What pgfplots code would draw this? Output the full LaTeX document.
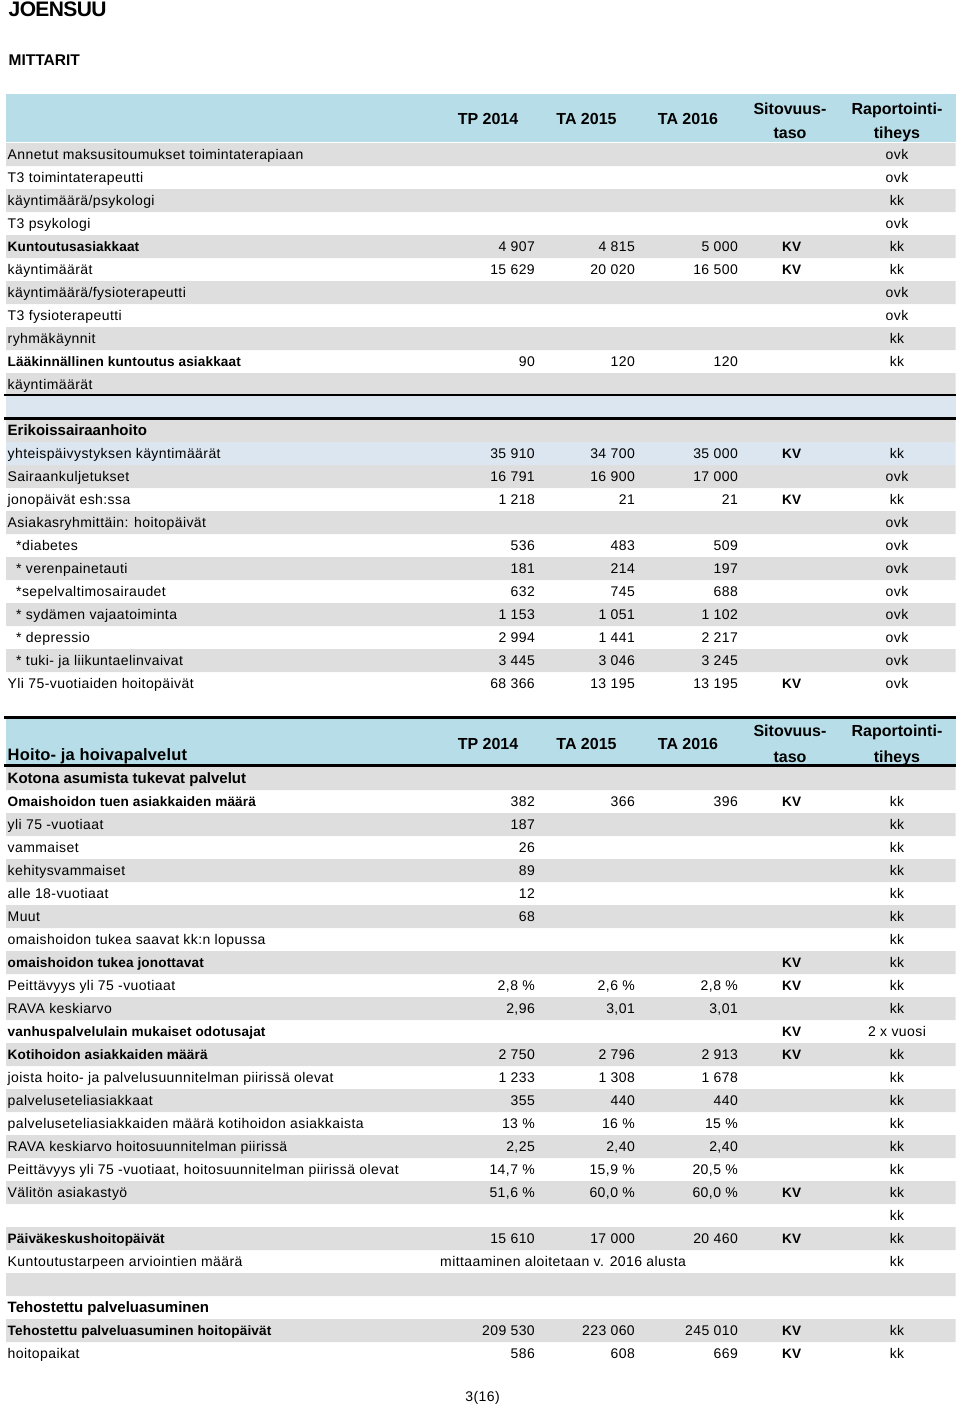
\documentclass[border=0pt]{standalone}
\usepackage{pgfplots}
\pgfplotsset{compat=1.18}
\usepackage{pgfplotstable}
\usepackage{fontspec}
\setmainfont{Liberation Sans}[LetterSpace=3]
\newfontfamily\fb{Liberation Sans}[LetterSpace=1.0]
\newfontfamily\fz{Liberation Sans}
\newfontfamily\ft{Liberation Sans}[LetterSpace=-3]
\definecolor{gry}{HTML}{DEDEDE}
\definecolor{hdr}{HTML}{B7DEE8}
\definecolor{lbl}{HTML}{DCE6F1}
\NewDocumentCommand\Bf{m}{{\fb\bfseries\fontsize{13.6}{16}\selectfont #1}}
\NewDocumentCommand\Sec{m}{{\fz\bfseries\fontsize{15}{18}\selectfont #1}}
\NewDocumentCommand\Ind{}{\hspace*{8.5pt}}
\NewDocumentCommand\rowfont{}{\fontsize{14}{16}\selectfont}
\NewDocumentCommand\hdrfont{}{\fz\bfseries\fontsize{16}{18}\selectfont}

\pgfplotsset{
  txt/.style={draw=none, mark=none, nodes near coords, point meta=explicit symbolic,
    every node near coord/.append style={inner sep=0pt, text=black, font=\rowfont, #1}},
  stripe/.style={xbar, bar width=23, bar shift=0pt, draw=none, fill=#1},
}

\pgfplotstableread[col sep=semicolon]{
y;s;lab;tp;ta;tb;kv;fr;z
154.5;1;Annetut maksusitoumukset toimintaterapiaan;;;;;ovk;0
177.5;0;T3 toimintaterapeutti;;;;;ovk;0
200.5;1;käyntimäärä/psykologi;;;;;kk;0
223.5;0;T3 psykologi;;;;;ovk;0
246.5;1;\Bf{Kuntoutusasiakkaat};4 907;4 815;5 000;KV;kk;0
269.5;0;käyntimäärät;15 629;20 020;16 500;KV;kk;0
292.5;1;käyntimäärä/fysioterapeutti;;;;;ovk;0
315.5;0;T3 fysioterapeutti;;;;;ovk;0
338.5;1;ryhmäkäynnit;;;;;kk;0
361.5;0;\Bf{Lääkinnällinen kuntoutus asiakkaat};90;120;120;;kk;0
384.5;1;käyntimäärät;;;;;;0
430.5;1;\Sec{Erikoissairaanhoito};;;;;;0
453.5;2;yhteispäivystyksen käyntimäärät;35 910;34 700;35 000;KV;kk;0
476.5;1;Sairaankuljetukset;16 791;16 900;17 000;;ovk;0
499.5;0;jonopäivät esh:ssa;1 218;21;21;KV;kk;0
522.5;1;Asiakasryhmittäin: hoitopäivät;;;;;ovk;0
545.5;0;\Ind*diabetes;536;483;509;;ovk;0
568.5;1;\Ind* verenpainetauti;181;214;197;;ovk;0
591.5;0;\Ind*sepelvaltimosairaudet;632;745;688;;ovk;0
614.5;1;\Ind* sydämen vajaatoiminta;1 153;1 051;1 102;;ovk;0
637.5;0;\Ind* depressio;2 994;1 441;2 217;;ovk;0
660.5;1;\Ind* tuki- ja liikuntaelinvaivat;3 445;3 046;3 245;;ovk;0
683.5;0;Yli 75-vuotiaiden hoitopäivät;68 366;13 195;13 195;KV;ovk;0
778.5;1;\Sec{Kotona asumista tukevat palvelut};;;;;;0
801.5;0;\Bf{Omaishoidon tuen asiakkaiden määrä};382;366;396;KV;kk;0
824.5;1;yli 75 -vuotiaat;187;;;;kk;0
847.5;0;vammaiset;26;;;;kk;0
870.5;1;kehitysvammaiset;89;;;;kk;0
893.5;0;alle 18-vuotiaat;12;;;;kk;0
916.5;1;Muut;68;;;;kk;0
939.5;0;omaishoidon tukea saavat kk:n lopussa;;;;;kk;0
962.5;1;\Bf{omaishoidon tukea jonottavat};;;;KV;kk;0
985.5;0;Peittävyys yli 75 -vuotiaat;2,8 \%;2,6 \%;2,8 \%;KV;kk;0
1008.5;1;RAVA keskiarvo;2,96;3,01;3,01;;kk;0
1031.5;0;\Bf{vanhuspalvelulain mukaiset odotusajat};;;;KV;2 x vuosi;0
1054.5;1;\Bf{Kotihoidon asiakkaiden määrä};2 750;2 796;2 913;KV;kk;0
1077.5;0;joista hoito- ja palvelusuunnitelman piirissä olevat;1 233;1 308;1 678;;kk;0
1100.5;1;palveluseteliasiakkaat;355;440;440;;kk;0
1123.5;0;palveluseteliasiakkaiden määrä kotihoidon asiakkaista;13 \%;16 \%;15 \%;;kk;0
1146.5;1;RAVA keskiarvo hoitosuunnitelman piirissä;2,25;2,40;2,40;;kk;0
1169.5;0;Peittävyys yli 75 -vuotiaat, hoitosuunnitelman piirissä olevat;14,7 \%;15,9 \%;20,5 \%;;kk;0
1192.5;1;Välitön asiakastyö;51,6 \%;60,0 \%;60,0 \%;KV;kk;0
1215.5;0;;;;;;kk;0
1238.5;1;\Bf{Päiväkeskushoitopäivät};15 610;17 000;20 460;KV;kk;0
1261.5;0;Kuntoutustarpeen arviointien määrä;;;;;kk;0
1284.5;1;;;;;;;0
1307.5;0;\Sec{Tehostettu palveluasuminen};;;;;;0
1330.5;1;\Bf{Tehostettu palveluasuminen hoitopäivät};209 530;223 060;245 010;KV;kk;0
1353.5;0;hoitopaikat;586;608;669;KV;kk;0
}\rows

\begin{document}
\begin{tikzpicture}
\useasboundingbox (0,0) rectangle (960pt,1408pt);
\begin{axis}[scale only axis, width=960pt, height=1408pt,
  xmin=0, xmax=960, ymin=0, ymax=1408, y dir=reverse,
  hide axis, clip=false]

% header bands
\fill[hdr] (axis cs:5.5,94) rectangle (axis cs:955.5,142);
\fill[hdr] (axis cs:5.5,718.5) rectangle (axis cs:955.5,765);
\fill[lbl] (axis cs:5.5,396) rectangle (axis cs:955.5,418);

% row stripes
\addplot[stripe=gry] table[x expr={\thisrow{s}==1 ? 955.5 : 0}, y=y]{\rows};
\addplot[stripe=lbl] table[x expr={\thisrow{s}==2 ? 955.5 : 0}, y=y]{\rows};
\fill[white] (axis cs:0,0) rectangle (axis cs:5.5,1408);

% rules
\draw[line width=2.6pt] (axis cs:4,395) -- (axis cs:955.5,395);
\draw[line width=2.6pt] (axis cs:4,418.5) -- (axis cs:955.5,418.5);
\draw[line width=2.6pt] (axis cs:4,717.5) -- (axis cs:955.5,717.5);
\draw[line width=2.6pt] (axis cs:4,765.5) -- (axis cs:955.5,765.5);

% titles
\node[anchor=base west, inner sep=0pt, font=\ft\bfseries\fontsize{21}{24}\selectfont] at (axis cs:8.5,16.5) {JOENSUU};
\node[anchor=base west, inner sep=0pt, font=\fz\bfseries\fontsize{15.5}{18}\selectfont] at (axis cs:8.5,65.7) {MITTARIT};

% header 1
\node[anchor=base, inner sep=0pt, font=\hdrfont] at (axis cs:488,124.8) {TP 2014};
\node[anchor=base, inner sep=0pt, font=\hdrfont] at (axis cs:586.5,124.8) {TA 2015};
\node[anchor=base, inner sep=0pt, font=\hdrfont] at (axis cs:688,124.8) {TA 2016};
\node[anchor=base, inner sep=0pt, font=\hdrfont] at (axis cs:790,114.8) {Sitovuus-};
\node[anchor=base, inner sep=0pt, font=\hdrfont] at (axis cs:790,138.2) {taso};
\node[anchor=base, inner sep=0pt, font=\hdrfont] at (axis cs:897,114.8) {Raportointi-};
\node[anchor=base, inner sep=0pt, font=\hdrfont] at (axis cs:897,138.2) {tiheys};

% header 2
\node[anchor=base west, inner sep=0pt, font=\fb\bfseries\fontsize{16.5}{18}\selectfont] at (axis cs:7.5,760) {Hoito- ja hoivapalvelut};
\node[anchor=base, inner sep=0pt, font=\hdrfont] at (axis cs:488,749.3) {TP 2014};
\node[anchor=base, inner sep=0pt, font=\hdrfont] at (axis cs:586.5,749.3) {TA 2015};
\node[anchor=base, inner sep=0pt, font=\hdrfont] at (axis cs:688,749.3) {TA 2016};
\node[anchor=base, inner sep=0pt, font=\hdrfont] at (axis cs:790,736.8) {Sitovuus-};
\node[anchor=base, inner sep=0pt, font=\hdrfont] at (axis cs:790,762.5) {taso};
\node[anchor=base, inner sep=0pt, font=\hdrfont] at (axis cs:897,736.8) {Raportointi-};
\node[anchor=base, inner sep=0pt, font=\hdrfont] at (axis cs:897,762.5) {tiheys};

% table body
\addplot[txt={anchor=base west}] table[x expr=7.5, y expr=\thisrow{y}+5, meta=lab]{\rows};
\addplot[txt={anchor=base east}] table[x expr=535, y expr=\thisrow{y}+5, meta=tp]{\rows};
\addplot[txt={anchor=base east}] table[x expr=635, y expr=\thisrow{y}+5, meta=ta]{\rows};
\addplot[txt={anchor=base east}] table[x expr=738, y expr=\thisrow{y}+5, meta=tb]{\rows};
\addplot[txt={anchor=base west, font=\fb\bfseries\fontsize{13.6}{16}\selectfont}] table[x expr=782, y expr=\thisrow{y}+5, meta=kv]{\rows};
\addplot[txt={anchor=base}] table[x expr=897, y expr=\thisrow{y}+5, meta=fr]{\rows};

\node[anchor=base west, inner sep=0pt, font=\rowfont] at (axis cs:440,1266.5) {mittaaminen aloitetaan v. 2016 alusta};
\node[anchor=base, inner sep=0pt, font=\fontsize{14}{16}\selectfont] at (axis cs:482.5,1401.5) {3(16)};

\end{axis}
\end{tikzpicture}
\end{document}
